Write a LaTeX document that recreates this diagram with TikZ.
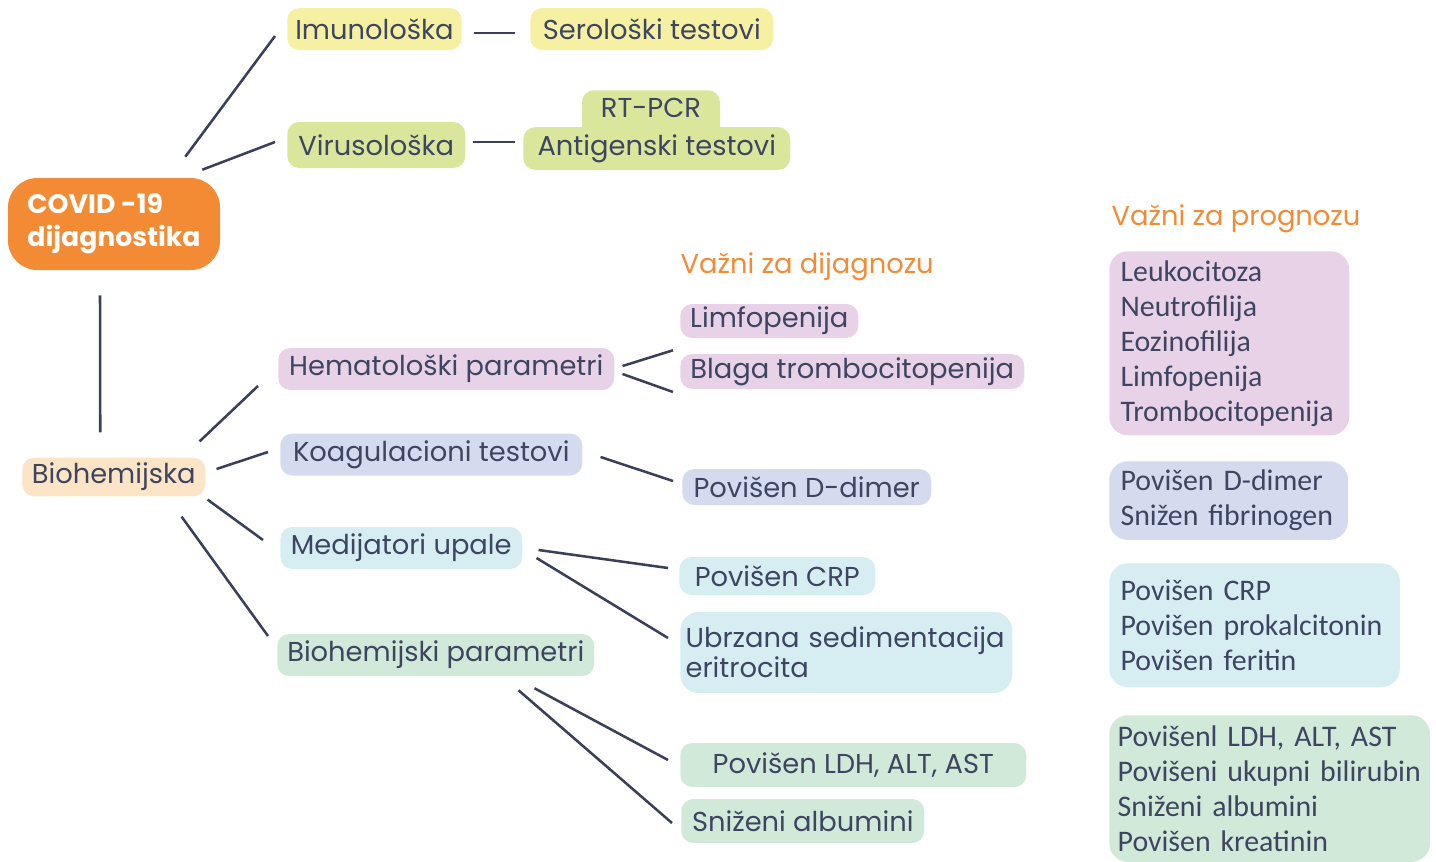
\documentclass[tikz,border=0pt]{standalone}
\usepackage{fontspec}
\setmainfont{Poppins}
\newfontfamily\progfont{Carlito}
\usetikzlibrary{positioning}

\definecolor{ink}{HTML}{3E4561}
\definecolor{wire}{HTML}{3B4058}
\definecolor{covidor}{HTML}{F38B35}
\definecolor{imunfill}{HTML}{F6F1A2}
\definecolor{virfill}{HTML}{D9E69B}
\definecolor{biofill}{HTML}{FBE5C6}
\definecolor{hemfill}{HTML}{E8D2E7}
\definecolor{koafill}{HTML}{D5DBEE}
\definecolor{medfill}{HTML}{D6EEF2}
\definecolor{bpfill}{HTML}{D0E9D9}

\begin{document}
\begin{tikzpicture}[x=0.75pt, y=-0.75pt,
    every node/.style={text=ink, font=\fontsize{20.5}{24}\selectfont},
    pill/.style={rounded corners=9pt, inner xsep=6pt, inner ysep=2pt, minimum height=31.5pt, anchor=west},
    progbox/.style={rounded corners=14pt, anchor=north west, align=left, inner xsep=8.5pt,
        font=\progfont\fontsize{22.4}{26.25}\selectfont},
    heading/.style={text=covidor, anchor=west, font=\fontsize{20.5}{24}\selectfont},
    link/.style={draw=wire, line width=1.9pt}]
    \useasboundingbox (0,0) rectangle (1436,861);

    % root and first level
    \node[fill=covidor, rounded corners=22pt, minimum width=159pt, minimum height=69pt, align=left,
        text=white, font=\bfseries\fontsize{20}{24.75}\selectfont] (covid) at (114,224) {COVID -19\\dijagnostika};
    \node[pill, fill=imunfill, minimum width=129.75pt] (imun) at (287,29) {Imunološka};
    \node[pill, fill=imunfill, minimum width=182.25pt] (sero) at (530,29) {Serološki testovi};
    \node[pill, fill=virfill, minimum width=133.5pt, minimum height=34.5pt] (virus) at (287,145) {Virusološka};
    \node[pill, fill=virfill, anchor=north, minimum width=103.5pt, minimum height=37.5pt, text depth=10.5pt] (rtpcr) at (651,90) {RT-PCR};
    \node[pill, fill=virfill, minimum width=200.25pt, minimum height=32pt] (antigen) at (523,148.5) {Antigenski testovi};
    \node[pill, fill=biofill, minimum width=137.25pt, minimum height=29pt] (bio) at (22,477) {Biohemijska};

    % biohemijska branches
    \node[pill, fill=hemfill, minimum width=252pt] (hemat) at (278,369) {Hematološki parametri};
    \node[pill, fill=koafill, minimum width=226.5pt] (koag) at (280,454.5) {Koagulacioni testovi};
    \node[pill, fill=medfill, minimum width=181.5pt] (medij) at (280,548) {Medijatori upale};
    \node[pill, fill=bpfill, minimum width=237.75pt] (biop) at (277,655) {Biohemijski parametri};

    % vazni za dijagnozu
    \node[heading] (dijag) at (676,267) {Važni za dijagnozu};
    \node[pill, fill=hemfill, minimum width=133.5pt, minimum height=25.5pt] (limf) at (680,321) {Limfopenija};
    \node[pill, fill=hemfill, minimum width=258pt, minimum height=26pt] (blaga) at (680,371.5) {Blaga trombocitopenija};
    \node[pill, fill=koafill, minimum width=186.75pt, minimum height=27pt] (ddimer) at (682,487) {Povišen D-dimer};
    \node[pill, fill=medfill, minimum width=147pt, minimum height=28.5pt] (crp) at (679,576) {Povišen CRP};
    \node[pill, fill=medfill, rounded corners=14pt, minimum height=61pt, text width=241pt, inner xsep=4pt, align=left,
        font=\fontsize{20.5}{22.5}\selectfont] (ubrz) at (680,652.5) {Ubrzana sedimentacija\\eritrocita};
    \node[pill, fill=bpfill, minimum width=259.5pt, minimum height=33pt] (ldh) at (680,765) {Povišen LDH, ALT, AST};
    \node[pill, fill=bpfill, minimum width=182.25pt, minimum height=33pt] (snizeni) at (681,821) {Sniženi albumini};

    % vazni za prognozu
    \node[heading] (prog) at (1107,219) {Važni za prognozu};
    \node[progbox, fill=hemfill, minimum height=138pt, text width=163pt] (proghem) at (1109,251)
        {Leukocitoza\\Neutrofilija\\Eozinofilija\\Limfopenija\\Trombocitopenija};
    \node[progbox, fill=koafill, minimum height=59pt, text width=162pt] (progkoa) at (1109,461)
        {Povišen D-dimer\\Snižen fibrinogen};
    \node[progbox, fill=medfill, minimum height=93pt, text width=201pt] (progmed) at (1109,563)
        {Povišen CRP\\Povišen prokalcitonin\\Povišen feritin};
    \node[progbox, fill=bpfill, minimum height=110pt, text width=228pt, inner xsep=6.3pt] (progbp) at (1109,715)
        {Povišenl LDH, ALT, AST\\Povišeni ukupni bilirubin\\Sniženi albumini\\Povišen kreatinin};

    % connectors
    \draw[link] ([shift={(-35,-21)}]covid.north east) -- ([shift={(-12,7)}]imun.west);
    \draw[link] ([shift={(-18,-8)}]covid.north east) -- ([shift={(-12,-3)}]virus.west);
    \draw[link] ([shift={(12,4)}]imun.east) -- ([shift={(-15,4)}]sero.west);
    \draw[link] ([shift={(7,-3)}]virus.east) -- ([shift={(-8,-6.5)}]antigen.west);
    \draw[link] ([shift={(-14,25)}]covid.south) -- ([shift={(-13.5,-25)}]bio.north);

    \draw[link] ([shift={(-6,-16)}]bio.north east) -- ([shift={(-20,17)}]hemat.west);
    \draw[link] ([shift={(11,-8)}]bio.east) -- ([shift={(-12,-2.5)}]koag.west);
    \draw[link] ([shift={(2,3)}]bio.south east) -- ([shift={(-17,-8)}]medij.west);
    \draw[link] ([shift={(-24,20)}]bio.south east) -- ([shift={(-9,-19)}]biop.west);

    \draw[link] ([shift={(8,-3)}]hemat.east) -- ([shift={(-7,12)}]limf.south west);
    \draw[link] ([shift={(8,5)}]hemat.east) -- ([shift={(-7,20.5)}]blaga.west);
    \draw[link] ([shift={(18,2.5)}]koag.east) -- ([shift={(-9,-6)}]ddimer.west);
    \draw[link] ([shift={(16,2)}]medij.east) -- ([shift={(-11,-8)}]crp.west);
    \draw[link] ([shift={(14,10)}]medij.east) -- ([shift={(-12,-14.5)}]ubrz.west);
    \draw[link] ([shift={(-60,12)}]biop.south east) -- ([shift={(-12,-5)}]ldh.west);
    \draw[link] ([shift={(-76,14)}]biop.south east) -- ([shift={(-9,2)}]snizeni.west);
\end{tikzpicture}
\end{document}
